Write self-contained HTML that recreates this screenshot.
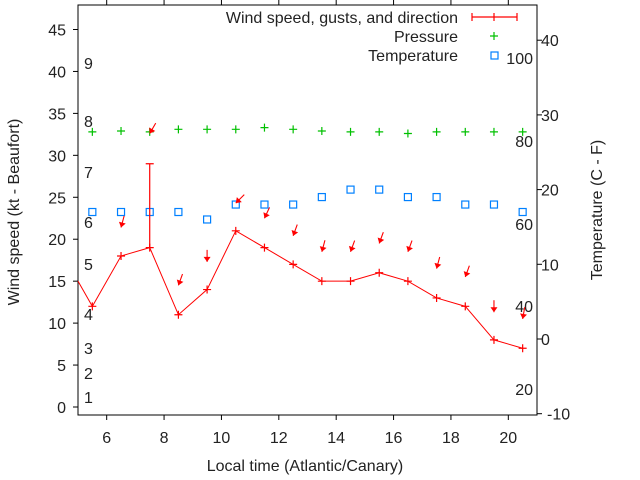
<!DOCTYPE html>
<html><head><meta charset="utf-8"><style>
body{margin:0;background:#fff}
svg{display:block;font-family:"Liberation Sans",sans-serif}
</style></head><body>
<svg id="chart" width="640" height="480" viewBox="0 0 640 480">
<g id="axes"></g><g id="marks"></g>
</svg>
<script>
const hours=[5.5,6.5,7.5,8.5,9.5,10.5,11.5,12.5,13.5,14.5,15.5,16.5,17.5,18.5,19.5,20.5];
const windKt=[12,18,19,11,14,21,19,17,15,15,16,15,13,12,8,7];
const gustKt=[null,null,29,null,null,null,null,null,null,null,null,null,null,null,null,null];
const windStartHour=5, windStartKt=15;
const pressure=[32.8,32.9,32.8,33.1,33.1,33.1,33.3,33.1,32.9,32.8,32.8,32.6,32.8,32.8,32.8,32.8];
const tempC=[17,17,17,17,16,18,18,18,19,20,20,19,19,18,18,17];
const arrowHours=[6.5,7.5,8.5,9.5,10.5,11.5,12.5,13.5,14.5,15.5,16.5,17.5,18.5,19.5,20.5];
const arrowKt=[21.4,32.6,14.5,17.3,24.3,22.5,20.4,18.5,18.5,19.5,18.5,16.5,15.5,11.3,10.5];
const arrowDir=[15,30,20,0,45,25,20,15,20,20,20,15,20,0,10];
const xTicks=[6,8,10,12,14,16,18,20];
const yTicks=[0,5,10,15,20,25,30,35,40,45];
const y2Ticks=[-10,0,10,20,30,40];
const beaufort=[[1,397],[2,373],[3,348],[4,314],[5,264],[6,222],[7,172],[8,121],[9,63]];
const fahr=[[20,389],[40,306],[60,224],[80,141],[100,58]];

const L=78,R=537,T=5,B=415,FS=16;
const X=h=>L+(h-5)*(R-L)/16;
const Y=k=>407-k*(407-29.5)/45;
const Y2=c=>339-c*7.47;
const NS='http://www.w3.org/2000/svg';
const ax=document.getElementById('axes'), mk=document.getElementById('marks');
function el(p,t,a,txt){const e=document.createElementNS(NS,t);for(const k in a)e.setAttribute(k,a[k]);if(txt!==undefined)e.textContent=txt;p.appendChild(e);return e;}

let f=el(ax,'rect',{x:L,y:T,width:R-L,height:B-T,fill:'none',stroke:'#000','stroke-width':1});


xTicks.forEach(v=>{
 el(ax,'line',{x1:X(v),x2:X(v),y1:B,y2:B+5,stroke:'#000'});
 el(ax,'line',{x1:X(v),x2:X(v),y1:T,y2:T-5,stroke:'#000'});
 let t=el(ax,'text',{x:X(v),y:B+28,'text-anchor':'middle','font-size':FS,fill:'#222'},v);
 
 
});
yTicks.forEach(v=>{
 el(ax,'line',{x1:L-5,x2:L,y1:Y(v),y2:Y(v),stroke:'#000'});
 let t=el(ax,'text',{x:66,y:Y(v)+6,'text-anchor':'end','font-size':FS,fill:'#222'},v);
 
 
});
y2Ticks.forEach(v=>{
 el(ax,'line',{x1:R,x2:R+5,y1:Y2(v),y2:Y2(v),stroke:'#000'});
 let t=el(ax,'text',{x:v<0?547:541,y:Y2(v)+6,'text-anchor':'start','font-size':FS,fill:'#222'},v);
 
 
});
beaufort.forEach(([v,y])=>{
 let t=el(ax,'text',{x:84,y:y+6,'font-size':FS,fill:'#222'},v);
 
 
});
fahr.forEach(([v,y])=>{
 let t=el(ax,'text',{x:533,y:y+6,'text-anchor':'end','font-size':FS,fill:'#222'},v);
 
 
});
let xt=el(ax,'text',{x:305,y:471,'text-anchor':'middle','font-size':FS,fill:'#222'},'Local time (Atlantic/Canary)');


let yt=el(ax,'text',{x:19,y:212,'text-anchor':'middle','font-size':FS,fill:'#222',transform:'rotate(-90 19 212)'},'Wind speed (kt - Beaufort)');


let y2t=el(ax,'text',{x:602,y:210,'text-anchor':'middle','font-size':FS,fill:'#222',transform:'rotate(-90 602 210)'},'Temperature (C - F)');



function plus(x,y,c,n){const g=el(mk,'path',{d:`M${x-4},${y}h8M${x},${y-4}v8`,stroke:c,'stroke-width':1.2});}
function sq(x,y,n){const g=el(mk,'rect',{x:x-3.5,y:y-3.5,width:7,height:7,fill:'none',stroke:'#0080ff','stroke-width':1.2});}

hours.forEach((h,i)=>sq(X(h),Y2(tempC[i]),'temperature-point'));
hours.forEach((h,i)=>plus(X(h),Y(pressure[i]),'#00c000','pressure-point'));
let pts=[[X(windStartHour),Y(windStartKt)]].concat(hours.map((h,i)=>[X(h),Y(windKt[i])]));
let wl=el(mk,'polyline',{points:pts.map(p=>p.join(',')).join(' '),fill:'none',stroke:'#f00','stroke-width':1});


hours.forEach((h,i)=>{
 plus(X(h),Y(windKt[i]),'#f00','wind-point');
 if(gustKt[i]!=null){
  let g=el(mk,'path',{d:`M${X(h)},${Y(windKt[i])}V${Y(gustKt[i])}M${X(h)-4},${Y(gustKt[i])}h8`,stroke:'#f00','stroke-width':1.2});
  
  
 }
});
arrowHours.forEach((h,i)=>{
 const x=X(h),y=Y(arrowKt[i]),a=arrowDir[i]*Math.PI/180,len=12;
 const tx=x+len*Math.sin(a),ty=y-len*Math.cos(a);
 const ux=Math.sin(a),uy=-Math.cos(a),px=-uy,py=ux;
 let g=el(mk,'g',{});
 
 
 el(g,'line',{x1:tx,y1:ty,x2:x,y2:y,stroke:'#f00','stroke-width':1.1});
 el(g,'path',{d:`M${x},${y}L${x+ux*5+px*3.5},${y+uy*5+py*3.5}L${x+ux*5-px*3.5},${y+uy*5-py*3.5}Z`,fill:'#f00'});
});
const lg=el(mk,'g',{});


[['Wind speed, gusts, and direction',17],['Pressure',36],['Temperature',55]].forEach(([s,y])=>{
 let t=el(lg,'text',{x:458,y:y+6,'text-anchor':'end','font-size':FS,fill:'#222'},s);
 
 
});
el(lg,'path',{d:'M472,17H517M472,13v8M517,13v8M494,13v8',stroke:'#f00','stroke-width':1.2});
el(lg,'path',{d:'M490,36h8M494,32v8',stroke:'#00c000','stroke-width':1.2});
el(lg,'rect',{x:491,y:52,width:7,height:7,fill:'none',stroke:'#0080ff','stroke-width':1.2});
</script>
</body></html>
